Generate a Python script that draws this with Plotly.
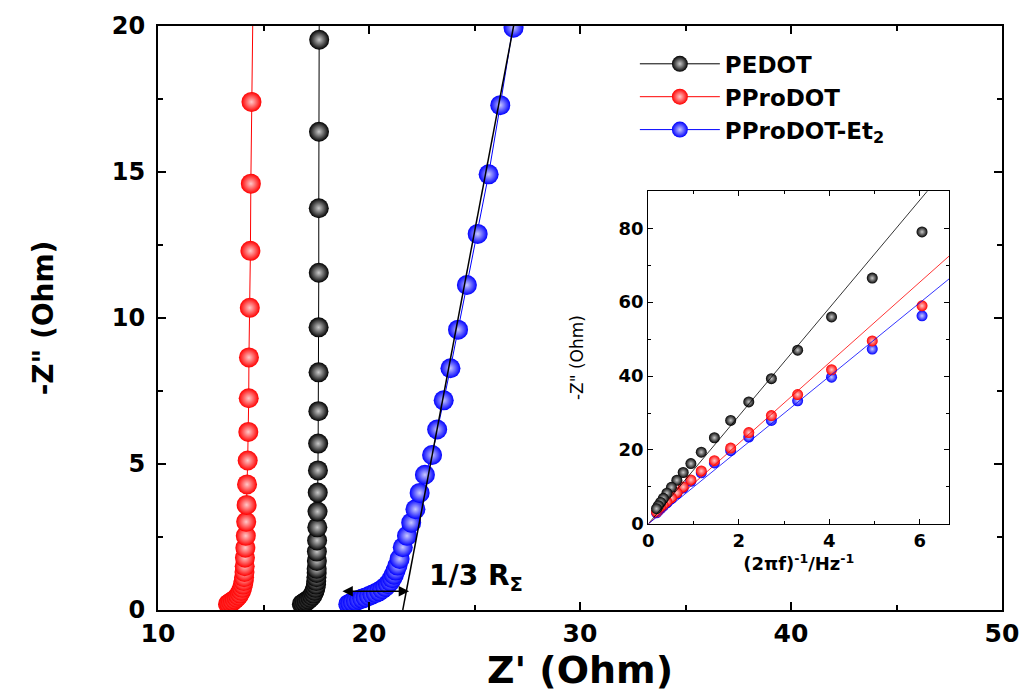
import plotly.graph_objects as go

# ---------------- main Nyquist data ----------------
pedot_x = [16.82, 16.88, 16.96, 17.05, 17.14, 17.23, 17.31, 17.37, 17.42, 17.46, 17.49, 17.50,
           17.51, 17.52, 17.52, 17.53, 17.53, 17.54, 17.55, 17.56, 17.57, 17.58, 17.59, 17.60,
           17.61, 17.61, 17.62, 17.62, 17.63, 17.64, 17.65]
pedot_y = [0.20, 0.23, 0.27, 0.31, 0.36, 0.42, 0.49, 0.57, 0.66, 0.76, 0.87, 0.99,
           1.12, 1.27, 1.41, 1.68, 2.00, 2.38, 2.83, 3.37, 4.02, 4.78, 5.70, 6.81,
           8.14, 9.68, 11.55, 13.76, 16.38, 19.53, 23.30]

pprodot_x = [13.32, 13.38, 13.46, 13.55, 13.64, 13.73, 13.81, 13.88, 13.94, 13.99, 14.03, 14.06,
             14.08, 14.10, 14.11, 14.12, 14.14, 14.16, 14.18, 14.20, 14.22, 14.25, 14.28, 14.30,
             14.31, 14.35, 14.38, 14.40, 14.43, 14.50]
pprodot_y = [0.20, 0.23, 0.27, 0.31, 0.36, 0.42, 0.49, 0.57, 0.66, 0.76, 0.87, 0.99,
             1.12, 1.30, 1.50, 1.79, 2.13, 2.54, 3.02, 3.60, 4.30, 5.12, 6.10, 7.25,
             8.65, 10.35, 12.30, 14.60, 17.40, 20.70]

et2_x = [19.02, 19.12, 19.24, 19.38, 19.53, 19.68, 19.84, 20.00, 20.16, 20.32, 20.48, 20.63,
         20.77, 20.90, 21.01, 21.10, 21.18, 21.26, 21.35, 21.45, 21.60, 21.80, 22.00, 22.20,
         22.40, 22.65, 22.99, 23.23, 23.54, 23.86, 24.22, 24.64, 25.15, 25.67, 26.22, 26.85,
         27.50]
et2_y = [0.20, 0.23, 0.27, 0.31, 0.35, 0.39, 0.43, 0.48, 0.53, 0.58, 0.64, 0.71,
         0.79, 0.88, 0.98, 1.09, 1.21, 1.35, 1.52, 1.75, 2.15, 2.54, 2.99, 3.45,
         4.01, 4.63, 5.31, 6.18, 7.18, 8.28, 9.60, 11.13, 12.88, 14.92, 17.29, 19.94,
         23.00]

# linear fit of the PProDOT-Et2 low-frequency branch
fit_x = [21.60, 27.30]
fit_y = [0.00, 21.70]

# ---------------- inset data ----------------
inv_w = [6.05, 4.95, 4.05, 3.30, 2.72, 2.22, 1.82, 1.46, 1.17, 0.94, 0.77, 0.63, 0.51,
         0.41, 0.33, 0.27, 0.22, 0.18]
ins_pedot = [79.0, 66.5, 56.0, 47.0, 39.3, 33.0, 28.0, 23.3, 19.4, 16.3, 13.9, 11.8, 9.9,
             8.3, 6.9, 5.8, 4.9, 4.1]
ins_pprodot = [59.0, 49.5, 41.7, 35.0, 29.3, 24.7, 20.5, 17.1, 14.3, 11.9, 10.0, 8.4, 7.0,
               5.9, 5.0, 4.3, 3.7, 3.2]
ins_et2 = [56.3, 47.3, 39.7, 33.3, 28.0, 23.5, 19.8, 16.5, 13.8, 11.5, 9.7, 8.1, 6.8,
           5.7, 4.8, 4.1, 3.5, 3.0]
ins_fit_x = [0.0, 7.0]
ins_fit_pedot = [0.0, 102.2]
ins_fit_pprodot = [0.0, 76.3]
ins_fit_et2 = [0.0, 69.8]

names = ["PEDOT", "PProDOT", "PProDOT-Et<sub>2</sub>"]
colors = ["black", "#ff0000", "#0000ff"]
centers = ["#c8c8c8", "#ffc8c8", "#c8c8ff"]

FONT = "DejaVu Sans"

fig = go.Figure()


def ball(color, center, size):
    return dict(color=color, size=size, line=dict(width=0),
                gradient=dict(type="radial", color=center))


# main plot traces
fig.add_trace(go.Scatter(x=pprodot_x, y=pprodot_y, mode="lines+markers", name=names[1],
                         line=dict(color=colors[1], width=1), marker=ball(colors[1], centers[1], 20),
                         legendrank=2))
fig.add_trace(go.Scatter(x=pedot_x, y=pedot_y, mode="lines+markers", name=names[0],
                         line=dict(color=colors[0], width=1), marker=ball(colors[0], centers[0], 20),
                         legendrank=1))
fig.add_trace(go.Scatter(x=et2_x, y=et2_y, mode="lines+markers", name=names[2],
                         line=dict(color=colors[2], width=1), marker=ball(colors[2], centers[2], 20),
                         legendrank=3))
fig.add_trace(go.Scatter(x=fit_x, y=fit_y, mode="lines", showlegend=False,
                         line=dict(color="black", width=1.5)))

# inset traces
for yv, c, cc in [(ins_et2, colors[2], centers[2]), (ins_pprodot, colors[1], centers[1]),
                  (ins_pedot, colors[0], centers[0])]:
    fig.add_trace(go.Scatter(x=inv_w, y=yv, mode="markers", showlegend=False,
                             marker=ball(c, cc, 11), xaxis="x2", yaxis="y2"))
for yv, c in [(ins_fit_pedot, colors[0]), (ins_fit_pprodot, colors[1]), (ins_fit_et2, colors[2])]:
    fig.add_trace(go.Scatter(x=ins_fit_x, y=yv, mode="lines", showlegend=False,
                             line=dict(color=c, width=0.8), xaxis="x2", yaxis="y2"))

axis_common = dict(showgrid=False, zeroline=False, showline=True, linecolor="black",
                   mirror="allticks", ticks="inside", tickcolor="black")

fig.update_layout(
    width=1031, height=700,
    margin=dict(l=158, r=26, t=20, b=90),
    paper_bgcolor="white", plot_bgcolor="white",
    font=dict(family=FONT, color="black"),
    xaxis=dict(**axis_common, range=[10, 50], tick0=10, dtick=10, linewidth=2,
               ticklen=8, tickwidth=2,
               minor=dict(dtick=5, ticks="inside", ticklen=5, tickwidth=2, tickcolor="black"),
               tickfont=dict(family=FONT, size=25, weight="bold"),
               title=dict(text="Z' (Ohm)", font=dict(family=FONT, size=38, weight="bold"),
                          standoff=8)),
    yaxis=dict(**axis_common, range=[0, 20], tick0=0, dtick=5, linewidth=2,
               ticklen=8, tickwidth=2, ticklabelstandoff=6,
               minor=dict(dtick=2.5, ticks="inside", ticklen=5, tickwidth=2, tickcolor="black"),
               tickfont=dict(family=FONT, size=24, weight="bold"),
               title=dict(text='-Z" (Ohm)', font=dict(family=FONT, size=28, weight="bold"),
                          standoff=50)),
    xaxis2=dict(**axis_common, domain=[0.581, 0.9374], anchor="y2", range=[0, 6.65],
                tick0=0, dtick=2, linewidth=1.2, ticklen=5, tickwidth=1.2,
                minor=dict(dtick=1, ticks="inside", ticklen=3, tickwidth=1, tickcolor="black"),
                tickfont=dict(family=FONT, size=18, weight="bold"),
                title=dict(text="(2πf)<sup>-1</sup>/Hz<sup>-1</sup>",
                           font=dict(family=FONT, size=18, weight="bold"), standoff=6)),
    yaxis2=dict(**axis_common, domain=[0.1475, 0.717], anchor="x2", range=[0, 90],
                tick0=0, dtick=20, linewidth=1.2, ticklen=5, tickwidth=1.2,
                minor=dict(dtick=10, ticks="inside", ticklen=3, tickwidth=1, tickcolor="black"),
                tickfont=dict(family=FONT, size=18, weight="bold"),
                title=dict(text='-Z" (Ohm)', font=dict(family=FONT, size=17), standoff=30)),
    legend=dict(x=0.565, y=0.972, xanchor="left", yanchor="top", bgcolor="rgba(0,0,0,0)",
                font=dict(family=FONT, size=23, weight="bold"), itemwidth=80,
                tracegroupgap=0),
    annotations=[
        dict(x=21.9, y=0.64, ax=18.67, ay=0.64, xref="x", yref="y", axref="x", ayref="y",
             text="", showarrow=True, arrowhead=2, startarrowhead=2, arrowside="end+start",
             arrowsize=1.3, arrowwidth=1.6, arrowcolor="black"),
        dict(x=22.75, y=1.12, xref="x", yref="y", xanchor="left", yanchor="middle",
             text="1/3 R<sub>Σ</sub>", showarrow=False,
             font=dict(family=FONT, size=28, weight="bold", color="black")),
    ],
)

fig.write_html("out.html")
